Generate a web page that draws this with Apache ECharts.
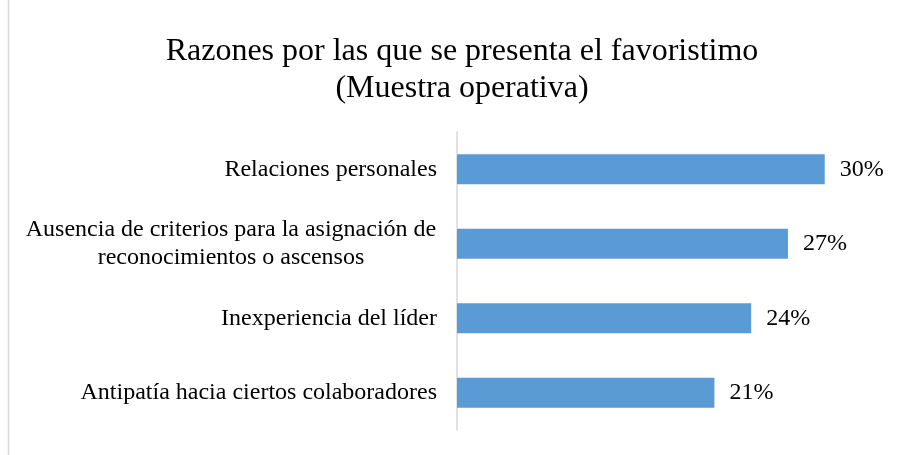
<!DOCTYPE html>
<html>
<head>
<meta charset="utf-8">
<script src="https://cdn.jsdelivr.net/npm/echarts@6/dist/echarts.min.js"></script>
<style>
  html, body { margin: 0; padding: 0; background: #fff; }
  #chart { width: 904px; height: 455px; }
</style>
</head>
<body>
<div id="chart"></div>
<script>
// datos
const categorias = [
  'Relaciones personales',
  'Ausencia de criterios para la asignación de\nreconocimientos o ascensos',
  'Inexperiencia del líder',
  'Antipatía hacia ciertos colaboradores'
]
const valores = [30, 27, 24, 21]
const titulo = 'Razones por las que se presenta el favoristimo\n(Muestra operativa)'

const fuente = '"Liberation Serif", "Times New Roman", serif'

const chart = echarts.init(document.getElementById('chart'))
const option = {
  animation: false,
  title: {
    text: titulo,
    left: 462,
    textAlign: 'center',
    top: 33,
    padding: 0,
    textStyle: {
      fontFamily: fuente,
      fontWeight: 'normal',
      fontSize: 32,
      lineHeight: 37,
      color: '#000'
    }
  },
  graphic: [
    {
      type: 'line',
      shape: { x1: 8.5, y1: 0, x2: 8.5, y2: 455 },
      style: { stroke: '#d9d9d9', lineWidth: 1.5 }
    }
  ],
  grid: {
    left: 457,
    right: 18,
    top: 132,
    bottom: 25
  },
  xAxis: {
    type: 'value',
    min: 0,
    max: 35,
    show: false
  },
  yAxis: {
    type: 'category',
    inverse: true,
    data: categorias,
    axisLine: { show: true, lineStyle: { color: '#d9d9d9', width: 1.5 } },
    axisTick: { show: false },
    axisLabel: {
      margin: 20,
      fontFamily: fuente,
      fontSize: 24,
      lineHeight: 28,
      color: '#000',
      formatter: function (v) {
        if (v.indexOf('\n') < 0) return v
        return v.split('\n').map(l => '{c|' + l + '}').join('\n')
      },
      rich: {
        c: {
          width: 412,
          align: 'center',
          fontFamily: fuente,
          fontSize: 24,
          lineHeight: 28,
          color: '#000'
        }
      }
    }
  },
  series: [
    {
      type: 'bar',
      data: valores,
      barWidth: 30,
      itemStyle: { color: '#5b9bd5' },
      label: {
        show: true,
        position: 'right',
        distance: 15,
        formatter: '{c}%',
        fontFamily: fuente,
        fontSize: 24,
        color: '#000'
      }
    }
  ]
}
chart.setOption(option)
</script>
</body>
</html>
